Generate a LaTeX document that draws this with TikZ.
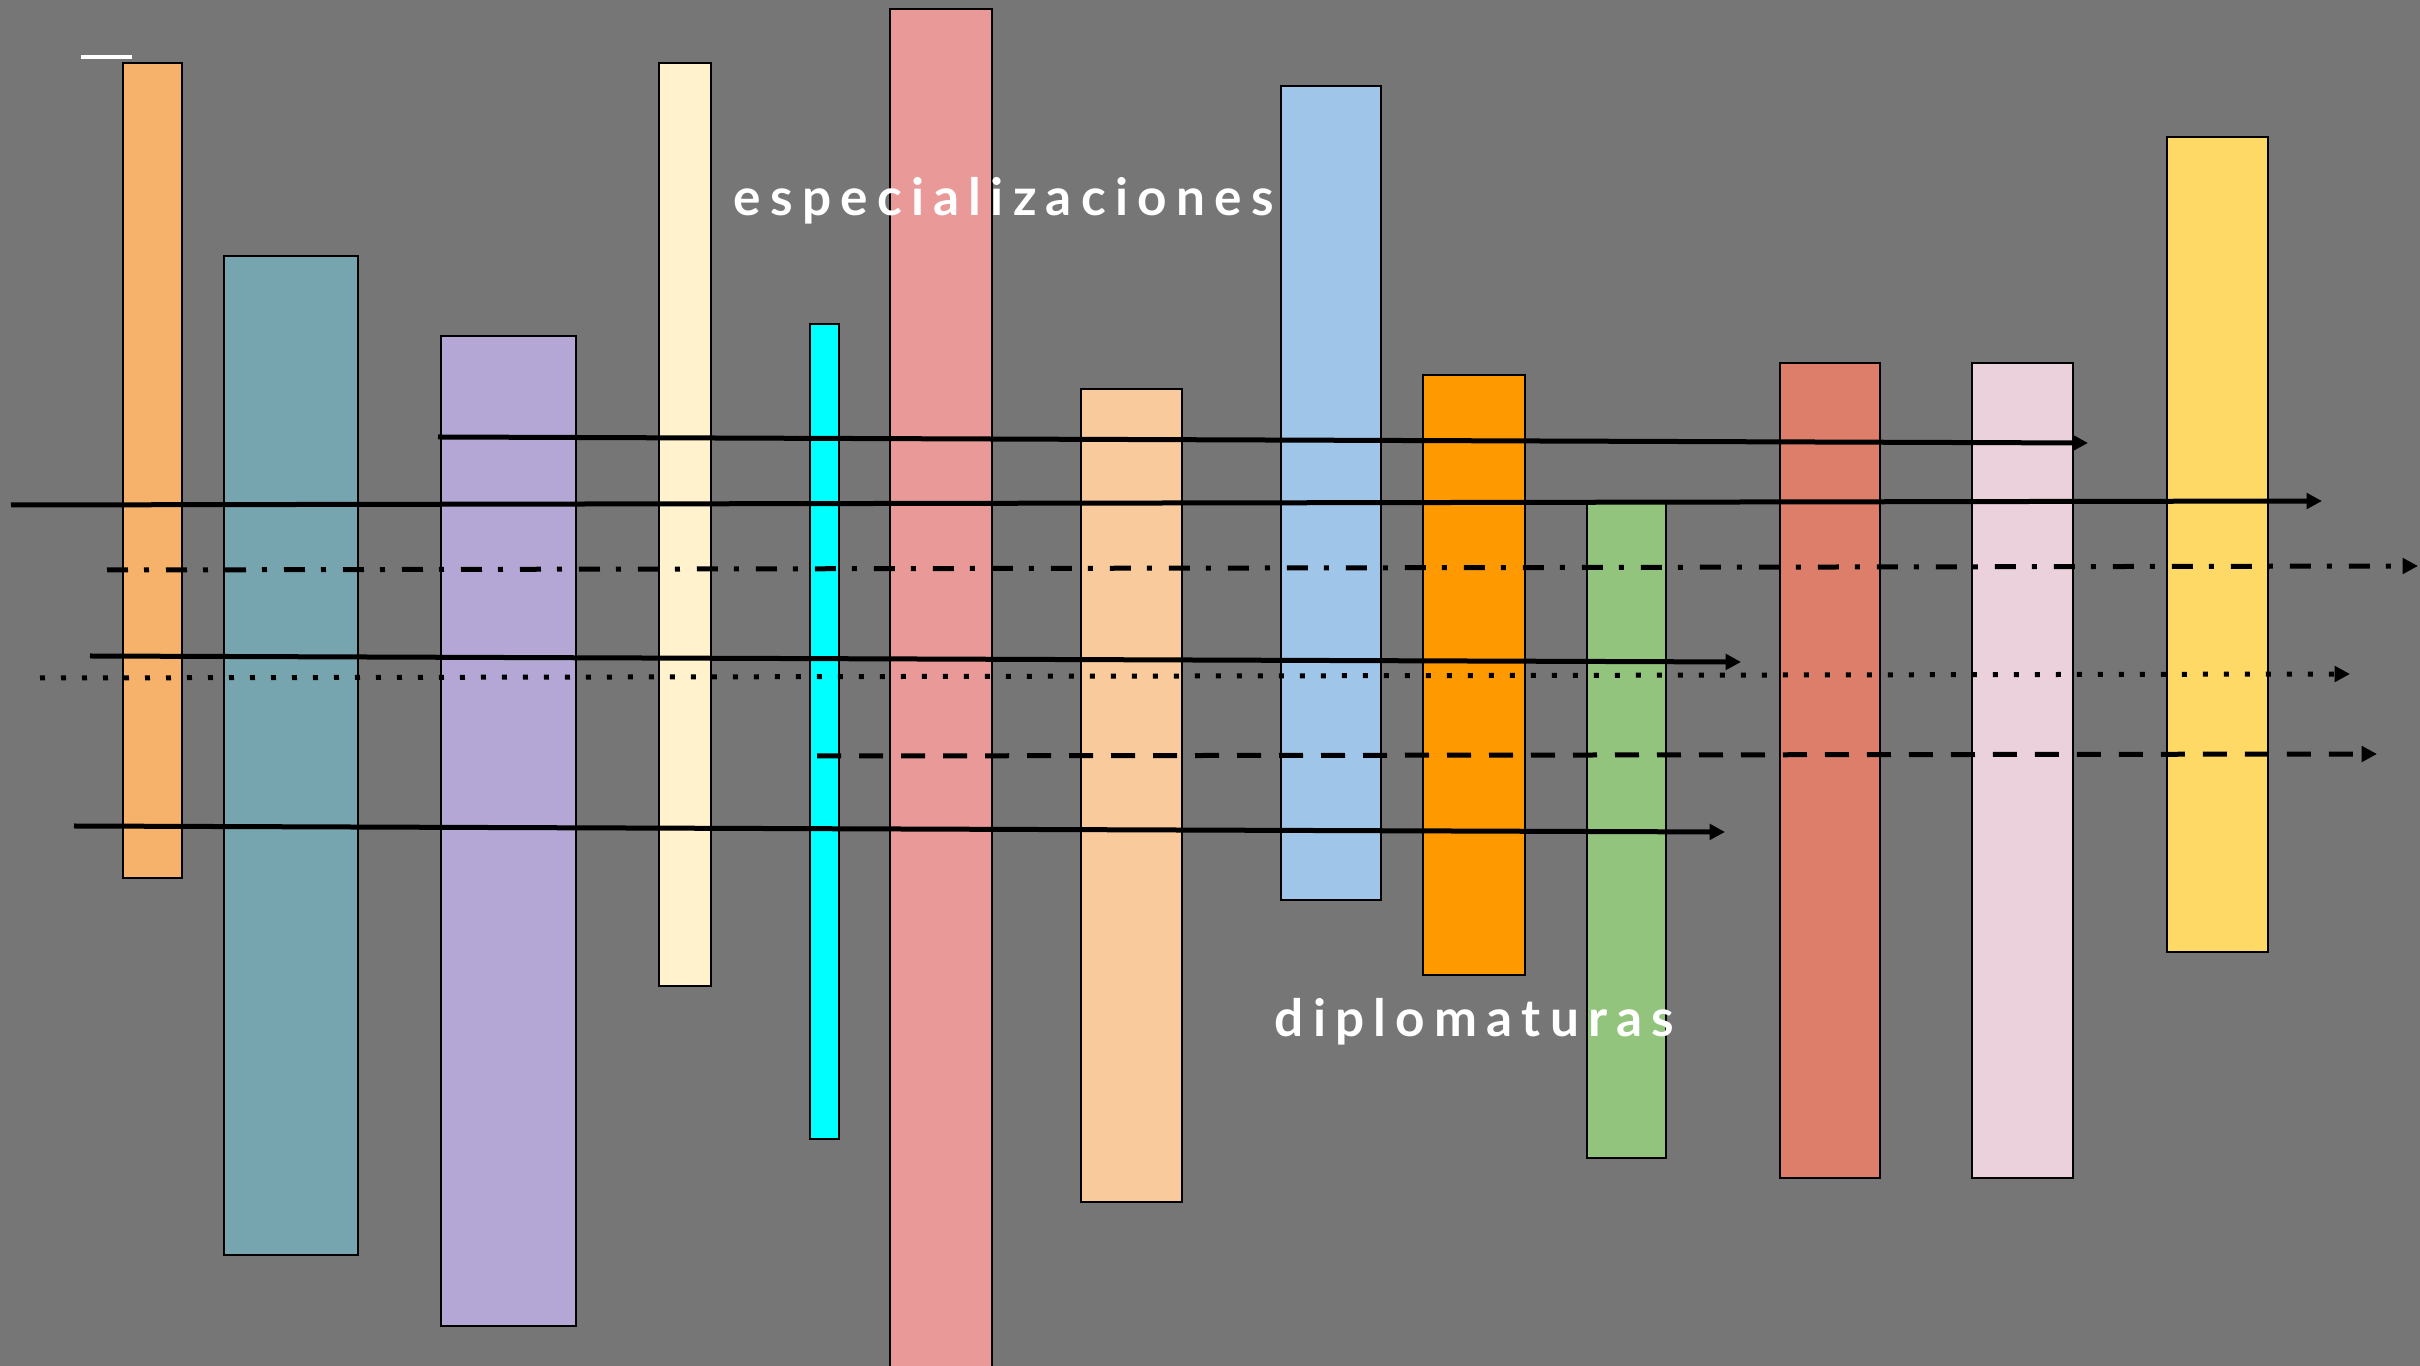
\documentclass[tikz,border=0pt]{standalone}
\usepackage{fontspec}
\setmainfont{Lato}
\newfontfamily\labelfont[LetterSpace=18]{Lato}
\usetikzlibrary{arrows.meta}
\definecolor{bgc}{HTML}{767676}
\definecolor{c1}{HTML}{F6B26B}
\definecolor{c2}{HTML}{76A5AF}
\definecolor{c3}{HTML}{B4A7D6}
\definecolor{c4}{HTML}{FFF2CC}
\definecolor{c5}{HTML}{00FFFF}
\definecolor{c6}{HTML}{EA9999}
\definecolor{c7}{HTML}{F9CB9C}
\definecolor{c8}{HTML}{9FC5E8}
\definecolor{c9}{HTML}{FF9900}
\definecolor{c10}{HTML}{93C47D}
\definecolor{c11}{HTML}{DD7E6B}
\definecolor{c12}{HTML}{EAD1DC}
\definecolor{c13}{HTML}{FFD966}
\newcommand\colbar[6]{\node[barbox, fill=#2, minimum width=#5*0.3pt, minimum height=#6*0.3pt] (#1) at (#3,#4) {};}
\tikzset{
  barbox/.style={draw=black, line width=0.75pt, rectangle, inner sep=0pt, outer sep=0pt, anchor=north west},
  flow/.style={line width=1.5pt, line cap=butt, -{Triangle[length=4.6pt,width=4.6pt]}},
  flowdashed/.style={flow, dash pattern=on 7.2pt off 5.4pt},
  flowdotted/.style={flow, dash pattern=on 1.5pt off 4.8pt},
  flowdashdot/.style={flow, dash pattern=on 6.3pt off 4.8pt on 1.5pt off 5.1pt},
  lbl/.style={text=white, anchor=base west, inner sep=0pt, font=\labelfont\bfseries\fontsize{15.4}{18}\selectfont}
}
\begin{document}
\begin{tikzpicture}[x=0.3pt, y=-0.3pt]
\useasboundingbox (0,0) rectangle (2420,1366);
\clip (0,0) rectangle (2420,1366);
\fill[bgc] (0,0) rectangle (2420,1366);
% white mark
\coordinate (w1) at (81,57);
\coordinate (w2) at (132,57);
\draw[white, line width=1.2pt] (w1) -- (w2);
% bars
\colbar{r1}{c1}{123}{63}{59}{815}
\colbar{r2}{c2}{224}{256}{134}{999}
\colbar{r3}{c3}{441}{336}{135}{990}
\colbar{r4}{c4}{659}{63}{52}{923}
\colbar{r5}{c5}{810}{324}{29}{815}
\colbar{r6}{c6}{890}{9}{102}{1400}
\colbar{r7}{c7}{1081}{389}{101}{813}
\colbar{r8}{c8}{1281}{86}{100}{814}
\colbar{r9}{c9}{1423}{375}{102}{600}
\colbar{r10}{c10}{1587}{503}{79}{655}
\colbar{r11}{c11}{1780}{363}{100}{815}
\colbar{r12}{c12}{1972}{363}{101}{815}
\colbar{r13}{c13}{2167}{137}{101}{815}
% labels
\node[lbl] (esp) at (733,216) {especializaciones};
\node[lbl] (dip) at (1274,1037) {diplomaturas};
% arrow end points
\coordinate (a1s) at (438,437);  \coordinate (a1e) at (2088,443);
\coordinate (a2s) at (11,505);   \coordinate (a2e) at (2322,501);
\coordinate (a3s) at (107,570);  \coordinate (a3e) at (2418,566);
\coordinate (a4s) at (90,656);   \coordinate (a4e) at (1741,662);
\coordinate (a5s) at (40,678);   \coordinate (a5e) at (2350,674);
\coordinate (a6s) at (817,756);  \coordinate (a6e) at (2377,754);
\coordinate (a7s) at (74,826);   \coordinate (a7e) at (1725,832);
\draw[flow] (a1s) -- (a1e);
\draw[flow] (a2s) -- (a2e);
\draw[flowdashdot] (a3s) -- (a3e);
\draw[flow] (a4s) -- (a4e);
\draw[flowdotted] (a5s) -- (a5e);
\draw[flowdashed] (a6s) -- (a6e);
\draw[flow] (a7s) -- (a7e);
\end{tikzpicture}
\end{document}
